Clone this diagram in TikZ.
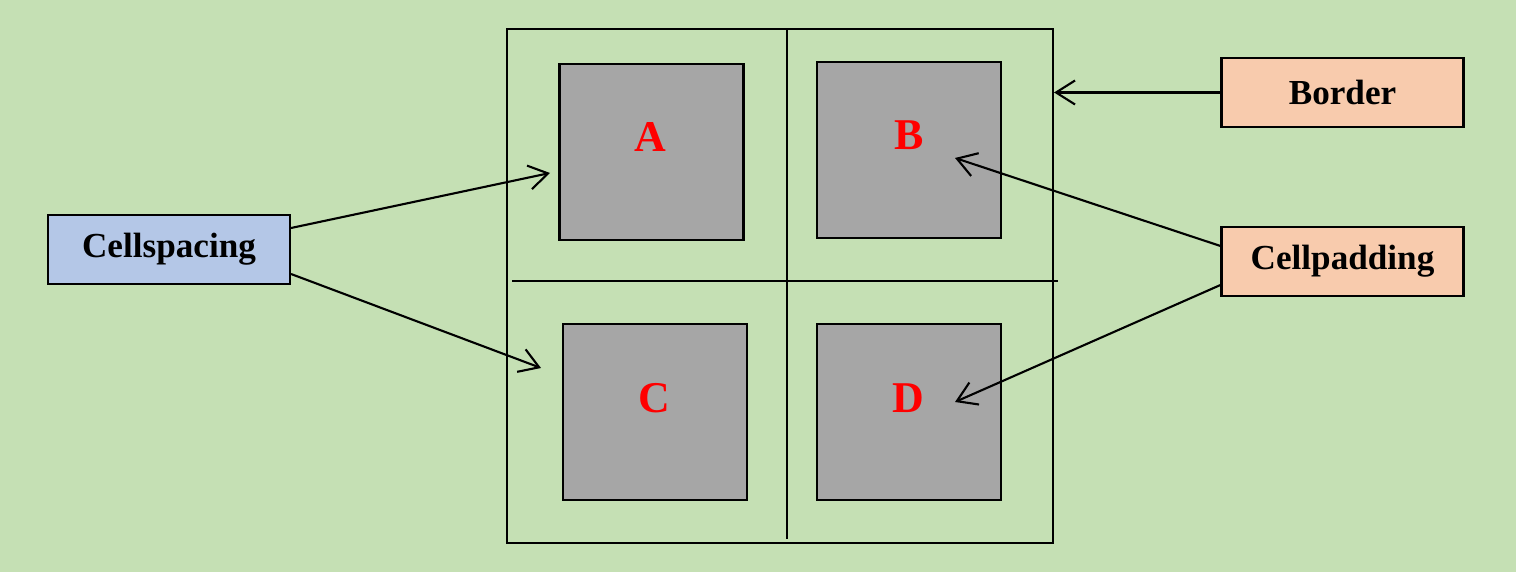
\documentclass[tikz,border=0pt]{standalone}
\usepackage{fontspec}
\setmainfont{Liberation Serif}
\usetikzlibrary{arrows.meta}
\definecolor{bggreen}{HTML}{C5E0B4}
\definecolor{spacingblue}{HTML}{B4C7E7}
\definecolor{peach}{HTML}{F8CBAD}
\definecolor{cellgrey}{HTML}{A6A6A6}
\tikzset{
  tagbox/.style={draw, line width=0.6pt, rectangle, minimum width=2.42cm, minimum height=0.69cm, font=\fontsize{10}{12}\selectfont\bfseries},
  cellbox/.style={draw, line width=0.6pt, fill=cellgrey, rectangle, minimum width=1.84cm, minimum height=1.76cm},
  letter/.style={text=red, font=\fontsize{12.5}{14}\selectfont\bfseries},
  pointer/.style={line width=0.6pt, -{Straight Barb[length=1.9mm,width=2.4mm]}}
}
\begin{document}
\begin{tikzpicture}
    \fill[bggreen] (0,0) rectangle (15.16,5.72);
    \useasboundingbox (0,0) rectangle (15.16,5.72);

    % table with its dividers
    \node[draw, line width=0.6pt, rectangle, minimum width=5.46cm, minimum height=5.14cm, inner sep=0pt] (tableframe) at (7.80,2.86) {};
    \draw[line width=0.6pt] (7.87,5.43) -- (7.87,0.33);
    \draw[line width=0.6pt] (5.12,2.91) -- (10.58,2.91);

    % cells
    \node[cellbox] (cellA) at (6.515,4.20) {};
    \node[cellbox] (cellB) at (9.09,4.22) {};
    \node[cellbox] (cellC) at (6.55,1.60) {};
    \node[cellbox] (cellD) at (9.09,1.60) {};

    \node[letter] (letterA) at (6.50,4.35) {A};
    \node[letter] (letterB) at (9.09,4.37) {B};
    \node[letter] (letterC) at (6.54,1.74) {C};
    \node[letter] (letterD) at (9.08,1.74) {D};

    % labels
    \node[tagbox, fill=spacingblue] (spacing) at (1.69,3.225) {Cellspacing};
    \node[tagbox, fill=peach] (border) at (13.425,4.795) {Border};
    \node[tagbox, fill=peach] (padding) at (13.425,3.105) {Cellpadding};

    % arrow tips
    \coordinate (tipA) at (5.50,3.99);
    \coordinate (tipC) at (5.41,2.04);
    \coordinate (tipB) at (9.55,4.14);
    \coordinate (tipD) at (9.55,1.70);

    \draw[pointer] ([yshift=2.15mm]spacing.east) -- (tipA);
    \draw[pointer] ([yshift=-2.45mm]spacing.east) -- (tipC);
    \draw[pointer] (border.west) -- (border.west -| tableframe.east);
    \draw[pointer] ([yshift=1.55mm]padding.west) -- (tipB);
    \draw[pointer] ([yshift=-2.35mm]padding.west) -- (tipD);
\end{tikzpicture}
\end{document}
